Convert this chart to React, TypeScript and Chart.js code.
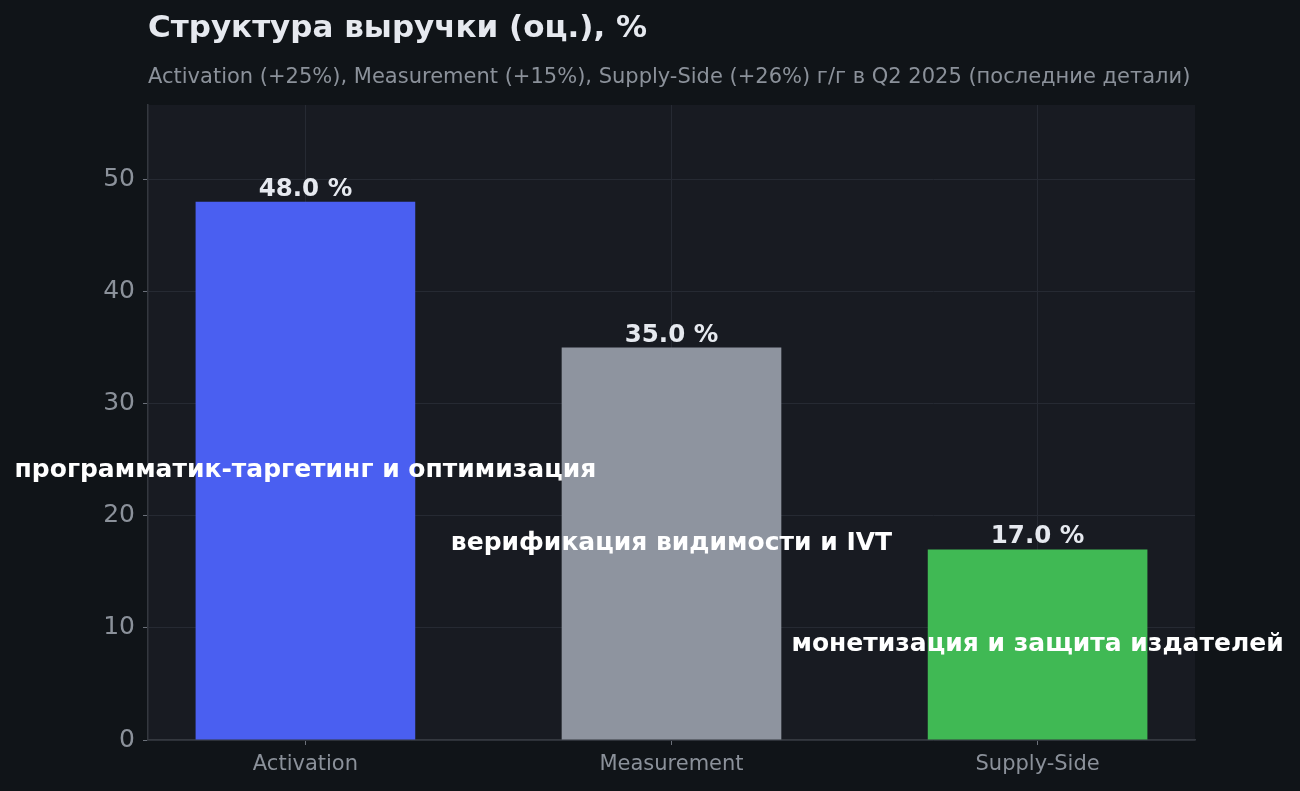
import { useEffect, useRef } from "react"
import { Chart, registerables } from "chart.js"

Chart.register(...registerables)

const categories = ["Activation", "Measurement", "Supply-Side"]
const shares = [48.0, 35.0, 17.0]
const notes = [
  "программатик-таргетинг и оптимизация",
  "верификация видимости и IVT",
  "монетизация и защита издателей",
]
const barColors = ["#4a5ff1", "#8e949f", "#40b954"]
const yTicks = [0, 10, 20, 30, 40, 50]

const title = "Структура выручки (оц.), %"
const subtitle =
  "Activation (+25%), Measurement (+15%), Supply-Side (+26%) г/г в Q2 2025 (последние детали)"

const FONT = "'DejaVu Sans', sans-serif"

const decorPlugin = {
  id: "decor",
  beforeDraw(chart: Chart) {
    const { ctx, chartArea } = chart
    ctx.save()
    ctx.fillStyle = "#181b22"
    ctx.fillRect(chartArea.left, chartArea.top, chartArea.right - chartArea.left, chartArea.bottom - chartArea.top)
    ctx.restore()
  },
  afterDatasetsDraw(chart: Chart) {
    const { ctx, chartArea } = chart
    const yScale = chart.scales.y
    const meta = chart.getDatasetMeta(0)
    ctx.save()
    ctx.textAlign = "center"
    meta.data.forEach((bar: any, i: number) => {
      // value above the bar
      ctx.font = `bold 24.5px ${FONT}`
      ctx.fillStyle = "#e6e9ef"
      ctx.textBaseline = "alphabetic"
      ctx.fillText(`${shares[i].toFixed(1)} %`, bar.x, bar.y - 6)
      // description in the middle of the bar
      ctx.font = `bold 25px ${FONT}`
      ctx.fillStyle = "#ffffff"
      ctx.textBaseline = "middle"
      ctx.fillText(notes[i], bar.x, yScale.getPixelForValue(shares[i] / 2))
    })
    // titles
    ctx.textAlign = "left"
    ctx.textBaseline = "middle"
    ctx.font = `bold 31px ${FONT}`
    ctx.fillStyle = "#e6e9ef"
    ctx.fillText(title, chartArea.left, 29)
    ctx.font = `21px ${FONT}`
    ctx.fillStyle = "#8b919a"
    ctx.fillText(subtitle, chartArea.left, 78)
    ctx.restore()
  },
}

export default function App() {
  const chartRef = useRef<HTMLCanvasElement>(null)
  const chartInstance = useRef<Chart | null>(null)

  useEffect(() => {
    if (!chartRef.current) return
    if (chartInstance.current) chartInstance.current.destroy()
    const ctx = chartRef.current.getContext("2d")
    if (!ctx) return

    chartInstance.current = new Chart(ctx, {
      type: "bar",
      data: {
        datasets: [
          {
            data: shares.map((v, i) => ({ x: i, y: v })),
            backgroundColor: barColors,
            borderWidth: 0,
            barPercentage: 0.6,
            categoryPercentage: 1,
          },
        ],
      },
      options: {
        responsive: false,
        animation: false,
        layout: { padding: { top: 105, left: 48, right: 105, bottom: 0 } },
        plugins: {
          legend: { display: false },
          tooltip: { enabled: false },
          title: { display: false },
        },
        scales: {
          x: {
            type: "linear",
            min: -0.43,
            max: 2.43,
            offset: false,
            afterFit: (scale: any) => {
              scale.height = 51
            },
            ticks: {
              stepSize: 1,
              includeBounds: false,
              autoSkip: false,
              maxRotation: 0,
              color: "#8b919a",
              font: { family: FONT, size: 21 },
              padding: 7,
              callback: (v: any) => categories[v as number] ?? "",
            },
            grid: {
              offset: false,
              color: "#262a33",
              tickColor: "#6b7079",
              tickLength: 5,
              lineWidth: 1,
            },
            border: { display: true, color: "#34383f", width: 1.5 },
          },
          y: {
            min: 0,
            max: 56.64,
            afterFit: (scale: any) => {
              scale.width = 100
            },
            afterBuildTicks: (scale: any) => {
              scale.ticks = yTicks.map((v) => ({ value: v }))
            },
            ticks: {
              color: "#8b919a",
              font: { family: FONT, size: 25 },
              padding: 8,
            },
            grid: {
              color: "#262a33",
              tickColor: "#6b7079",
              tickLength: 5,
              lineWidth: 1,
            },
            border: { display: true, color: "#34383f", width: 1.5 },
          },
        },
      },
      plugins: [decorPlugin],
    })

    return () => {
      if (chartInstance.current) {
        chartInstance.current.destroy()
        chartInstance.current = null
      }
    }
  }, [])

  return (
    <div style={{ position: "fixed", left: 0, top: 0, width: 1300, height: 791, background: "#101418" }}>
      <canvas ref={chartRef} width={1300} height={791} style={{ width: 1300, height: 791 }} />
    </div>
  )
}
